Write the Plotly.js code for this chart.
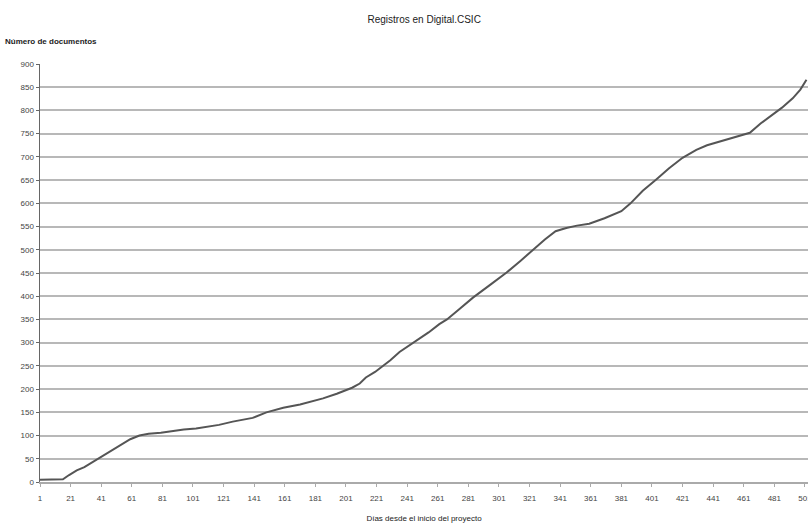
<!DOCTYPE html>
<html>
<head>
<meta charset="utf-8">
<script src="https://cdn.plot.ly/plotly-3.0.1.min.js"></script>
<style>html,body{margin:0;padding:0;background:#fff}#chart{width:808px;height:526px}</style>
</head>
<body>
<div id="chart"></div>
<script>
var days = [1,10,16,20,25,30,35,40,45,50,55,60,66,72,80,88,95,103,110,118,127,135,140,149,160,171,180,186,195,205,210,214,220,225,230,236,245,255,262,267,275,284,295,306,315,323,331,338,345,352,360,370,381,387,395,404,412,421,430,437,445,450,458,465,472,480,486,493,498,502];
var docs = [5,5,6,15,25,32,42,52,62,72,82,92,100,104,106,110,113,115,118,123,130,135,138,150,160,167,174,180,190,203,212,225,237,250,262,280,300,322,340,350,372,397,424,451,476,500,522,540,547,552,556,568,583,600,627,652,675,698,715,725,733,738,745,752,772,792,806,826,845,866];
var xTicks = [1,21,41,61,81,101,121,141,161,181,201,221,241,261,281,301,321,341,361,381,401,421,441,461,481,501];
var yTicks = [0,50,100,150,200,250,300,350,400,450,500,550,600,650,700,750,800,850,900];
var titleText = "Registros en Digital.CSIC";
var yTitle = "Número de documentos";
var xTitle = "Días desde el inicio del proyecto";

var trace = {x: days, y: docs, mode: 'lines', type: 'scatter',
  line: {color: '#555555', width: 2}, hoverinfo: 'skip'};

var layout = {
  width: 808, height: 526,
  margin: {l: 40, r: 0, t: 64, b: 44},
  paper_bgcolor: '#ffffff', plot_bgcolor: '#ffffff',
  showlegend: false,
  font: {family: 'Liberation Sans, Arial, sans-serif', size: 8, color: '#333'},
  title: {text: titleText, x: 0.525, xanchor: 'center', y: 0.962, yanchor: 'middle',
    font: {size: 10, color: '#222'}},
  xaxis: {range: [1, 503], tickvals: xTicks, ticktext: xTicks.map(String),
    ticklabeloverflow: 'allow',
    showgrid: false, zeroline: false, showline: true, linecolor: '#aaa', linewidth: 2,
    ticks: 'outside', ticklen: 3, tickcolor: '#aaa', ticklabelstandoff: 4,
    tickfont: {size: 8, color: '#444'},
    title: {text: xTitle, font: {size: 8, color: '#222'}, standoff: 14}},
  yaxis: {range: [0, 900], tickvals: yTicks, ticktext: yTicks.map(String),
    showgrid: true, gridcolor: '#b8b8b8', gridwidth: 2,
    zeroline: false, showline: true, linecolor: '#666', linewidth: 1.5,
    ticks: 'outside', ticklen: 3, tickcolor: '#666',
    tickfont: {size: 8, color: '#444'}},
  shapes: [{type: 'line', xref: 'paper', yref: 'y', x0: 0.002, x1: 1, y0: 900, y1: 900,
    line: {color: '#ffffff', width: 3}}],
  annotations: [{text: '<b>' + yTitle + '</b>', xref: 'paper', yref: 'paper',
    x: -0.048, y: 1.055, xanchor: 'left', yanchor: 'middle', showarrow: false,
    font: {size: 8, color: '#222'}}]
};
Plotly.newPlot('chart', [trace], layout, {staticPlot: true, displayModeBar: false});
</script>
</body>
</html>
